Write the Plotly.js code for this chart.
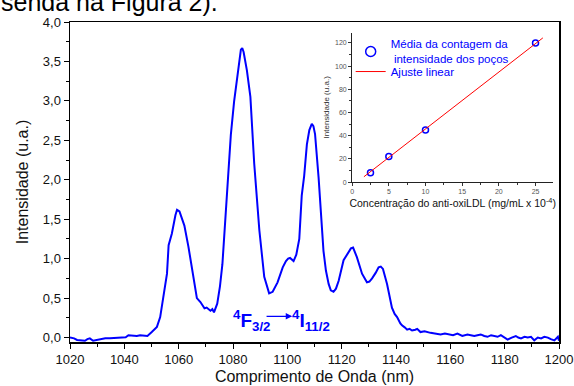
<!DOCTYPE html>
<html>
<head>
<meta charset="utf-8">
<script src="https://cdn.plot.ly/plotly-3.0.1.min.js"></script>
<style>
html,body{margin:0;padding:0;background:#fff;}
#chart{width:574px;height:386px;}
</style>
</head>
<body>
<div id="chart"></div>
<script>
// Main spectrum (wavelength nm, intensity a.u.)
const wavelength = [1020,1021.5,1022.6,1023.6,1025.5,1026.4,1027.3,1028.5,1030,1031,1032.2,1033,1034.7,1036,1037,1038.4,1039.6,1040.5,1041.5,1042.6,1043.5,1044.6,1045.8,1047.2,1048.5,1050.1,1051,1052,1053.2,1054.4,1055.7,1056.3,1057.5,1058.8,1059.4,1060.3,1061.2,1062.1,1063.6,1064.2,1065.5,1066.7,1068,1069.5,1070.3,1071.1,1071.7,1072.4,1073,1074.2,1075.2,1076.1,1077,1077.9,1079.2,1080.4,1081.7,1082.9,1083.4,1083.9,1085.1,1086.4,1087.8,1089.7,1091.5,1093.3,1094.6,1096.4,1098.3,1099.5,1100.3,1101,1102.3,1103.3,1104.4,1105.3,1106.2,1107.2,1108.1,1109,1109.6,1110.2,1111.5,1113.3,1114.2,1115.2,1116,1117,1117.9,1118.9,1120.7,1122.6,1123.4,1124.2,1125.6,1127.5,1129.3,1130.2,1131.2,1132.5,1133.6,1134.4,1135.2,1136.7,1138.5,1139.5,1140.4,1141.6,1142.2,1143.2,1144.1,1145,1145.9,1147.1,1147.8,1149,1150.5,1152.7,1154.5,1156.4,1158,1159.5,1161,1162.6,1164.4,1166.3,1167.5,1168.8,1170,1171.2,1172.5,1173.7,1175,1176.1,1177.4,1178.6,1180,1181.1,1182.6,1184.1,1185,1186,1187.3,1188.5,1189.7,1190.9,1192.2,1193.4,1194.6,1195.9,1197,1198.3,1199.6,1200];
const intensity = [0.0,-0.01,-0.03,-0.035,-0.04,-0.02,-0.01,-0.04,-0.03,-0.02,-0.015,-0.01,-0.01,-0.005,0.0,0.0,0.01,0.005,0.03,0.025,0.03,0.02,0.03,0.025,0.02,0.07,0.1,0.135,0.26,0.52,0.81,1.17,1.32,1.55,1.62,1.60,1.52,1.42,1.15,1.02,0.77,0.50,0.45,0.37,0.38,0.35,0.34,0.36,0.32,0.43,0.65,0.93,1.45,1.98,2.57,2.99,3.37,3.65,3.67,3.62,3.39,3.05,2.21,1.36,0.77,0.56,0.58,0.70,0.89,0.97,1.00,1.01,0.97,1.05,1.25,1.80,2.05,2.45,2.63,2.71,2.68,2.58,2.03,1.10,0.85,0.68,0.60,0.58,0.62,0.72,0.98,1.08,1.13,1.14,1.02,0.81,0.70,0.71,0.75,0.82,0.89,0.90,0.87,0.68,0.38,0.30,0.26,0.18,0.155,0.13,0.10,0.11,0.09,0.10,0.11,0.07,0.08,0.06,0.05,0.04,0.05,0.04,0.03,0.05,0.02,0.04,0.03,0.02,0.03,0.04,0.02,0.01,0.03,0.02,0.01,0.03,0.0,-0.025,0.0,0.02,0.0,-0.01,0.01,0.0,0.01,-0.035,0.0,-0.01,0.01,0.0,-0.02,-0.035,0.01,-0.04];

// Inset: mean well intensity vs anti-oxiLDL concentration
const concentration = [2.5, 5, 10, 25];
const meanIntensity = [8, 22, 45, 120];
const fitX = [1.6, 26];
const fitSlope = 4.91;
const fitIntercept = -3.26;
const fitY = fitX.map(x => fitIntercept + fitSlope * x);

const xTicks = [1020,1040,1060,1080,1100,1120,1140,1160,1180,1200];
const yTicks = [0,0.5,1,1.5,2,2.5,3,3.5,4];

const FAM = '"Liberation Sans", Arial, sans-serif';

const traces = [
  {x: wavelength, y: intensity, type: 'scatter', mode: 'lines',
   line: {color: '#0000ff', width: 2}, showlegend: false, xaxis: 'x', yaxis: 'y'},
  {x: concentration, y: meanIntensity, type: 'scatter', mode: 'markers',
   marker: {symbol: 'circle-open', size: 6, color: '#0000ff', line: {width: 1.5, color: '#0000ff'}},
   showlegend: false, xaxis: 'x2', yaxis: 'y2'},
  {x: [null], y: [null], type: 'scatter', mode: 'markers',
   name: 'Média da contagem da<br> intensidade dos poços',
   marker: {symbol: 'circle-open', size: 10, color: '#0000ff', line: {width: 1.5, color: '#0000ff'}},
   xaxis: 'x2', yaxis: 'y2', legend: 'legend'},
  {x: fitX, y: fitY, type: 'scatter', mode: 'lines', name: 'Ajuste linear',
   line: {color: '#ff0000', width: 1}, xaxis: 'x2', yaxis: 'y2', legend: 'legend2'}
];

const axisFont = {family: FAM, size: 13, color: '#111'};
const legendFont = {family: FAM, size: 11.5, color: '#0000ff'};
const layout = {
  width: 574, height: 386,
  margin: {l: 70, r: 15, t: 22, b: 44},
  paper_bgcolor: '#fff', plot_bgcolor: '#fff',
  separators: ',.',
  font: {family: FAM, color: '#111'},
  xaxis: {
    range: [1020, 1200], tickvals: xTicks, tickfont: axisFont,
    ticks: 'outside', ticklen: 5, tickwidth: 1, tickcolor: '#000',
    minor: {dtick: 10, ticklen: 3, tickcolor: '#000', ticks: 'outside'},
    showline: true, linecolor: '#000', linewidth: 1.5, mirror: true,
    showgrid: false, zeroline: false,
    title: {text: 'Comprimento de Onda (nm)', font: {family: FAM, size: 16, color: '#111'}, standoff: 4}
  },
  yaxis: {
    range: [-0.056, 4.0], tickvals: yTicks, tickformat: '.1f', tickfont: axisFont,
    ticks: 'outside', ticklen: 5, tickwidth: 1, tickcolor: '#000',
    minor: {dtick: 0.25, ticklen: 3, tickcolor: '#000', ticks: 'outside'},
    showline: true, linecolor: '#000', linewidth: 1.5, mirror: true,
    showgrid: false, zeroline: false,
    title: {text: 'Intensidade (u.a.)', font: {family: FAM, size: 16, color: '#111'}, standoff: 10}
  },
  xaxis2: {
    domain: [0.577, 0.988], anchor: 'y2', range: [0, 27.4], dtick: 5, tick0: 0,
    tickfont: {family: FAM, size: 7, color: '#555'},
    ticks: 'outside', ticklen: 3, tickcolor: '#333',
    minor: {dtick: 2.5, ticklen: 2, tickcolor: '#333', ticks: 'outside'},
    showline: true, linecolor: '#222', linewidth: 1, showgrid: false, zeroline: false,
    title: {text: 'Concentração do anti-oxiLDL (mg/mL x 10<sup>-4</sup>)', font: {family: FAM, size: 10.5, color: '#111'}, standoff: 5}
  },
  yaxis2: {
    domain: [0.4997, 0.967], anchor: 'x2', range: [0, 129], dtick: 20, tick0: 0,
    tickfont: {family: FAM, size: 7, color: '#555'},
    ticks: 'outside', ticklen: 3, tickcolor: '#333',
    minor: {dtick: 10, ticklen: 2, tickcolor: '#333', ticks: 'outside'},
    showline: true, linecolor: '#222', linewidth: 1, showgrid: false, zeroline: false,
    title: {text: 'Intensidade (u.a.)', font: {family: FAM, size: 8, color: '#333'}, standoff: 4}
  },
  legend: {
    x: 0.574, y: 0.975, xanchor: 'left', yanchor: 'top',
    bgcolor: 'rgba(0,0,0,0)', borderwidth: 0,
    font: legendFont, tracegroupgap: 0, itemwidth: 30
  },
  legend2: {
    x: 0.574, y: 0.8905, xanchor: 'left', yanchor: 'top',
    bgcolor: 'rgba(0,0,0,0)', borderwidth: 0,
    font: legendFont, tracegroupgap: 0, itemwidth: 30
  },
  annotations: [
    {xref: 'paper', yref: 'paper', x: 0.306, y: 1.013, xanchor: 'right', yanchor: 'bottom',
     text: 'senda na Figura 2).', showarrow: false,
     font: {family: FAM, size: 25, color: '#000'}},
    {xref: 'x', yref: 'y', x: 1087.0, y: 0.22, xanchor: 'center', yanchor: 'middle',
     text: '<b><sup>4</sup>F<sub>3/2</sub></b>', showarrow: false,
     font: {family: FAM, size: 19, color: '#0000ff'}},
    {xref: 'x', yref: 'y', x: 1108.8, y: 0.22, xanchor: 'center', yanchor: 'middle',
     text: '<b><sup>4</sup>I<sub>11/2</sub></b>', showarrow: false,
     font: {family: FAM, size: 19, color: '#0000ff'}},
    {xref: 'x', yref: 'y', x: 1101.8, y: 0.27, ax: 1091.8, ay: 0.27, axref: 'x', ayref: 'y',
     text: '', showarrow: true, arrowhead: 2, arrowsize: 1, arrowwidth: 1.3, arrowcolor: '#0000ff'}
  ]
};

Plotly.newPlot('chart', traces, layout, {displayModeBar: false, staticPlot: true});
</script>
</body>
</html>
